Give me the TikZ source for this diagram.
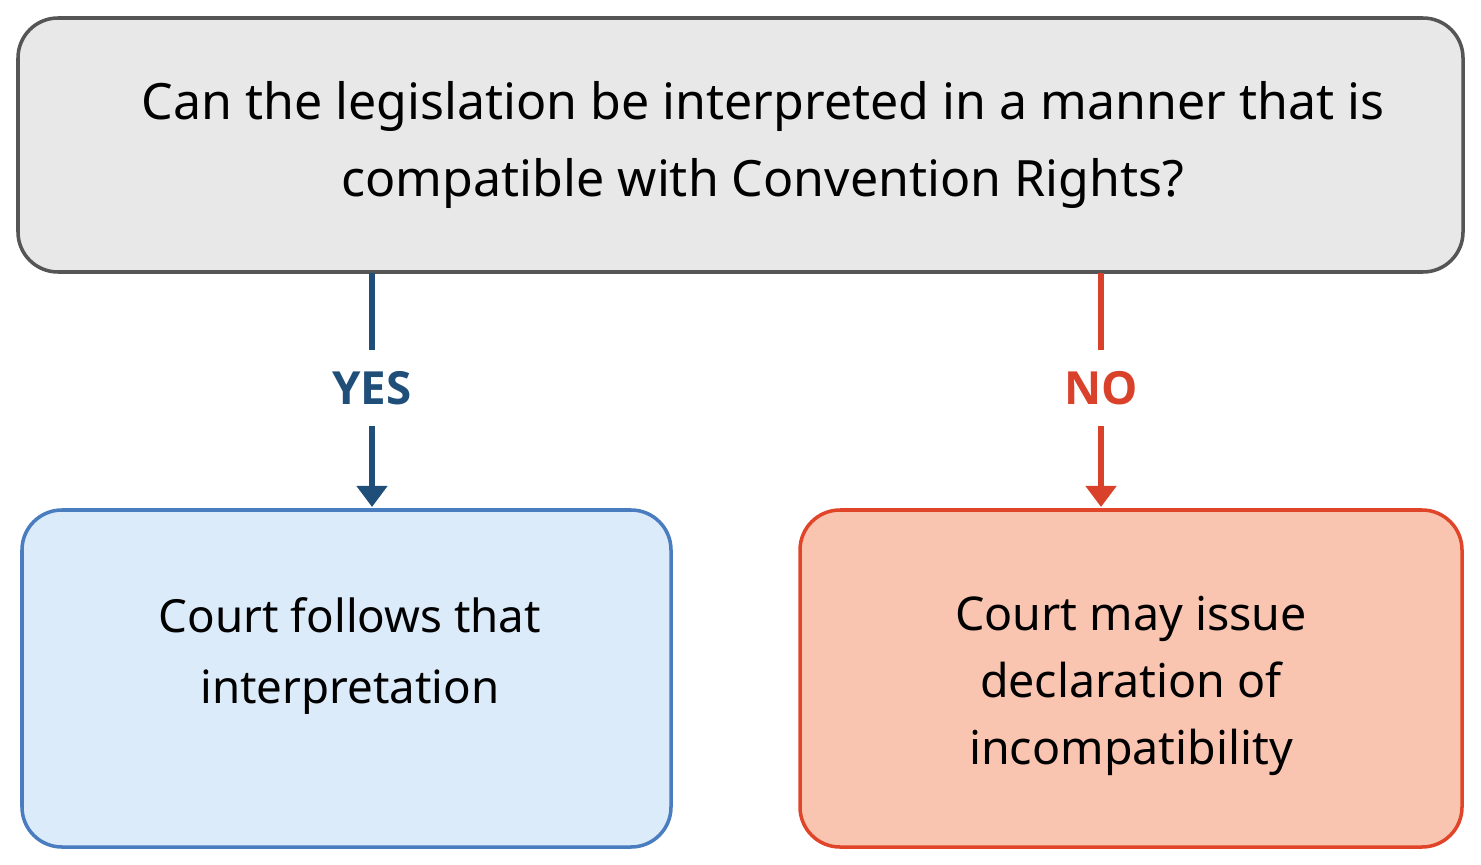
\documentclass[tikz,border=0pt]{standalone}
\usepackage{fontspec}
\setmainfont{Noto Sans}
\newfontfamily\labelfont{Open Sans}[BoldFont={* Bold}]
\usetikzlibrary{arrows.meta}
\definecolor{qfill}{HTML}{E8E8E8}
\definecolor{qdraw}{HTML}{555555}
\definecolor{yfill}{HTML}{DCEBFA}
\definecolor{ydraw}{HTML}{4A7CC0}
\definecolor{yarrow}{HTML}{1F4E79}
\definecolor{nfill}{HTML}{F9C4B0}
\definecolor{ndraw}{HTML}{E0452A}
\definecolor{narrow}{HTML}{D9412B}
\begin{document}
\begin{tikzpicture}[x=0.02cm,y=-0.02cm,
  box/.style n args={2}{draw=#1,fill=#2,line width=2pt,rounded corners=0.8cm,align=center},
  lbl/.style={font=\labelfont\fontsize{26}{30}\selectfont\bfseries,text=#1,inner sep=12pt},
  link/.style={draw=#1,line width=3pt}]
\useasboundingbox (0,0) rectangle (1481,865);
\draw[box={qdraw}{qfill}] (18,18) rectangle (1463,272);
\node (q) at (763,145) [align=center,font=\fontsize{28.5}{44}\selectfont]
  {Can the legislation be interpreted in a manner that is\\compatible with Convention Rights?};
\draw[box={ydraw}{yfill}] (22,510) rectangle (671,847);
\node (yes) at (350,656) [align=center,font=\fontsize{26}{40}\selectfont]
  {Court follows that\\interpretation};
\draw[box={ndraw}{nfill}] (800,510) rectangle (1462,847);
\node (no) at (1131,686) [align=center,font=\fontsize{26.5}{38}\selectfont]
  {Court may issue\\declaration of\\incompatibility};
% branch labels
\node[lbl=yarrow] (ylab) at (372,388) {YES};
\node[lbl=narrow] (nlab) at (1101,388) {NO};
\coordinate (ytop) at (372,273);
\coordinate (ybot) at (372,507);
\coordinate (ntop) at (1101,273);
\coordinate (nbot) at (1101,507);
\draw[link=yarrow] (ytop) -- (ylab);
\draw[link=yarrow,-{Triangle[width=17pt,length=12pt]}] (ylab) -- (ybot);
\draw[link=narrow] (ntop) -- (nlab);
\draw[link=narrow,-{Triangle[width=17pt,length=12pt]}] (nlab) -- (nbot);
\end{tikzpicture}
\end{document}
